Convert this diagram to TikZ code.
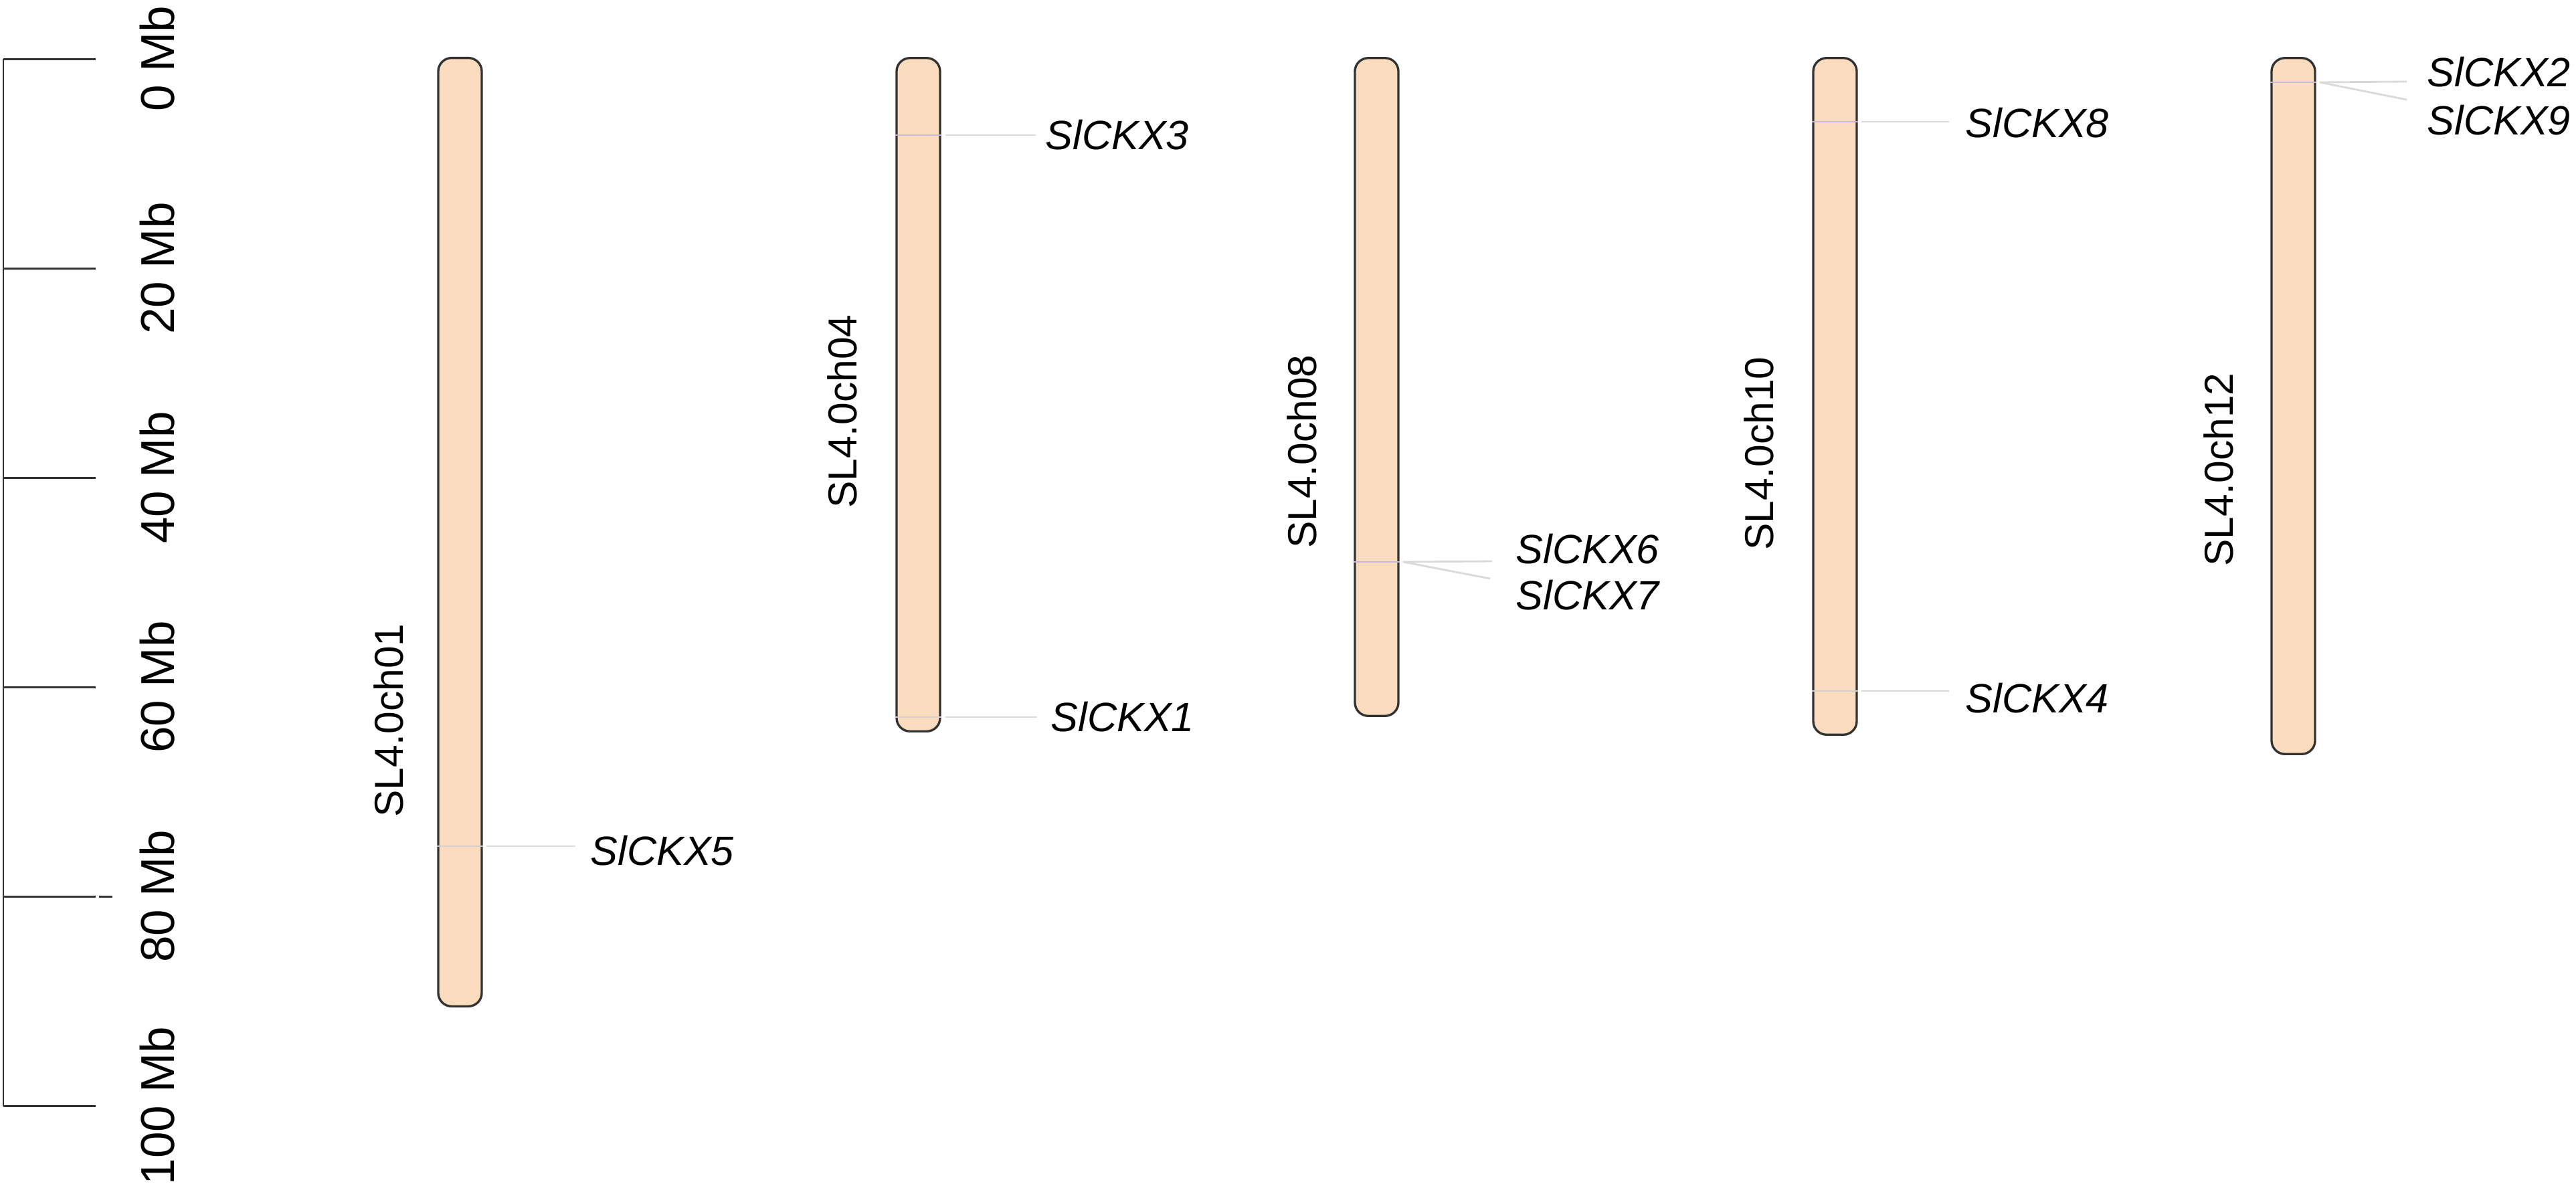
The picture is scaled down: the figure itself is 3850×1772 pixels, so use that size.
\documentclass[tikz,border=0pt]{standalone}
\usepackage{fontspec}
\setmainfont{Liberation Sans}
\definecolor{chromfill}{RGB}{252,220,190}
\definecolor{chromline}{RGB}{50,50,50}
\definecolor{connc}{RGB}{218,218,218}
\definecolor{gmarkc}{RGB}{200,182,222}
\definecolor{gmarkg}{RGB}{215,205,205}
\begin{document}
\begin{tikzpicture}[x=0.01cm,y=-0.01cm,
  chrom/.style={draw=chromline,fill=chromfill,line width=0.95pt,rounded corners=0.2cm,minimum width=0.65cm,inner sep=0pt},
  axisline/.style={draw=chromline,line width=0.85pt},
  axislab/.style={rotate=90,anchor=base,inner sep=0pt,font=\fontsize{20.2}{24}\selectfont},
  chromlab/.style={rotate=90,anchor=base,inner sep=0pt,font=\fontsize{17.2}{20}\selectfont},
  genelab/.style={anchor=west,inner sep=0pt,font=\fontsize{17.4}{20}\selectfont\itshape},
  conn/.style={draw=connc,line width=0.8pt},
  gmark/.style={draw=gmarkc,line width=0.5pt},
  gmarkgray/.style={draw=gmarkg,line width=0.5pt}]
\useasboundingbox (0,0) rectangle (3850,1772);
% scale axis
\coordinate (ax0) at (5,88);
\coordinate (ax100) at (5,1653);
\draw[axisline] (ax0) -- (ax100);
\foreach \y/\t in {88/t0,401/t20,714/t40,1027/t60,1340/t80,1653/t100}{
  \coordinate (\t) at (143,\y);
  \draw[axisline] (5,\y) -- (\t);
}
\coordinate (t80b) at (148,1340);
\coordinate (t80c) at (168,1340);
\draw[axisline] (t80b) -- (t80c);
\node[axislab] (a0) at (260,88) {0 Mb};
\node[axislab] (a20) at (260,401) {20 Mb};
\node[axislab] (a40) at (260,714) {40 Mb};
\node[axislab] (a60) at (260,1027) {60 Mb};
\node[axislab] (a80) at (260,1340) {80 Mb};
\node[axislab] (a100) at (260,1653) {100 Mb};
% chromosomes
\node[chrom,minimum height=14.17cm] (c1) at (687.5,795.5) {};
\node[chrom,minimum height=10.06cm] (c4) at (1372.5,590) {};
\node[chrom,minimum height=9.83cm] (c8) at (2057.5,578.5) {};
\node[chrom,minimum height=10.11cm] (c10) at (2742.5,592.5) {};
\node[chrom,minimum height=10.40cm] (c12) at (3427.5,607) {};
% chromosome labels
\node[chromlab] (n1) at (602,1077) {SL4.0ch01};
\node[chromlab] (n4) at (1280,615) {SL4.0ch04};
\node[chromlab] (n8) at (1967,675) {SL4.0ch08};
\node[chromlab] (n10) at (2650,678) {SL4.0ch10};
\node[chromlab] (n12) at (3337,702) {SL4.0ch12};
% gene marks inside chromosomes
\draw[gmarkgray] (c1.west |- 0,1265) -- (c1.east |- 0,1265);
\draw[gmark] (c4.west |- 0,202) -- (c4.east |- 0,202);
\draw[gmarkgray] (c4.west |- 0,1072) -- (c4.east |- 0,1072);
\draw[gmark] (c8.west |- 0,840) -- (c8.east |- 0,840);
\draw[gmark] (c10.west |- 0,182) -- (c10.east |- 0,182);
\draw[gmarkgray] (c10.west |- 0,1033) -- (c10.east |- 0,1033);
\draw[gmark] (c12.west |- 0,123) -- (c12.east |- 0,123);
% gene labels
\node[genelab] (g5) at (882,1272) {SlCKX5};
\node[genelab] (g3) at (1562,202) {SlCKX3};
\node[genelab] (g1) at (1570,1072) {SlCKX1};
\node[genelab] (g6) at (2265,821) {SlCKX6};
\node[genelab] (g7) at (2265,890) {SlCKX7};
\node[genelab] (g8) at (2937,184) {SlCKX8};
\node[genelab] (g4) at (2937,1044) {SlCKX4};
\node[genelab] (g2) at (3627,108) {SlCKX2};
\node[genelab] (g9) at (3627,180) {SlCKX9};
% connector anchor points
\coordinate (s5) at (727,1265);  \coordinate (e5) at (860,1265);
\coordinate (s3) at (1413,202);  \coordinate (e3) at (1548,202);
\coordinate (s1) at (1413,1072); \coordinate (e1) at (1550,1072);
\coordinate (s67) at (2097,840); \coordinate (e6) at (2230,839); \coordinate (e7) at (2227,865);
\coordinate (s8) at (2782,182);  \coordinate (e8) at (2913,182);
\coordinate (s4) at (2782,1033); \coordinate (e4) at (2913,1033);
\coordinate (s29) at (3467,123); \coordinate (e2) at (3597,122); \coordinate (e9) at (3597,149);
\draw[conn] (s5) -- (e5);
\draw[conn] (s3) -- (e3);
\draw[conn] (s1) -- (e1);
\draw[conn] (s67) -- (e6);
\draw[conn] (s67) -- (e7);
\draw[conn] (s8) -- (e8);
\draw[conn] (s4) -- (e4);
\draw[conn] (s29) -- (e2);
\draw[conn] (s29) -- (e9);
\end{tikzpicture}
\end{document}
